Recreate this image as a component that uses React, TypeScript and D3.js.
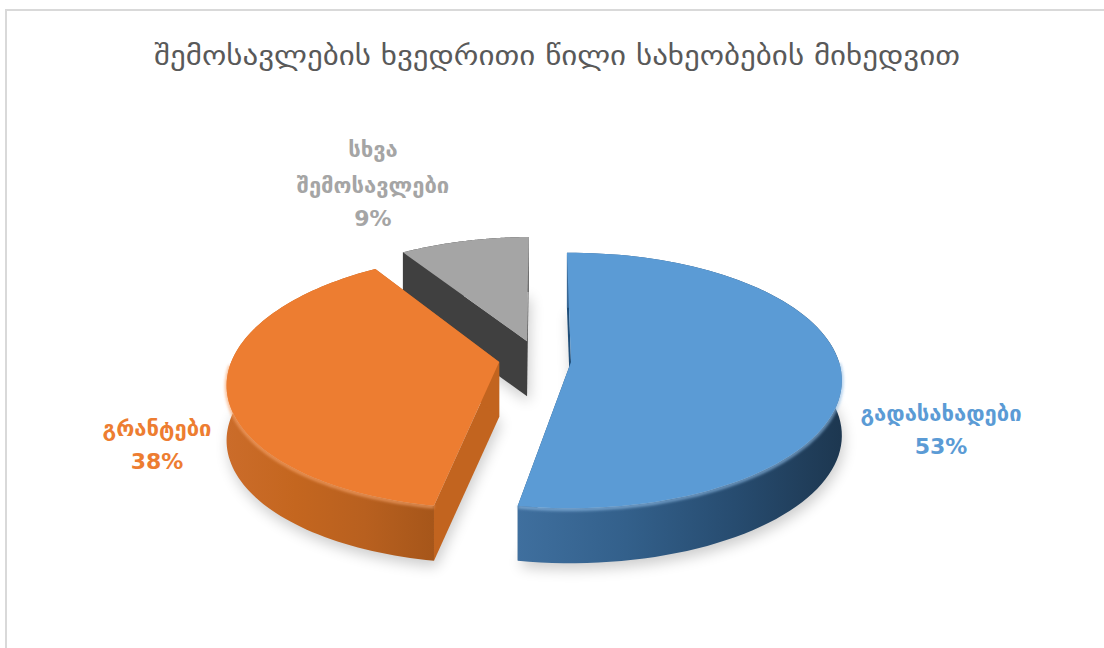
import React from "react";
import * as d3 from "d3";

const title = "შემოსავლების ხვედრითი წილი სახეობების მიხედვით";
const categories = ["გადასახადები", "გრანტები", "სხვა შემოსავლები"];
const values = [53, 38, 9];
const percentLabels = ["53%", "38%", "9%"];
const labelLines = [["გადასახადები", "53%"], ["გრანტები", "38%"], ["სხვა", "შემოსავლები", "9%"]];
const labelX = [941, 157, 373];
const labelY = [[421, 454], [436, 469], [157, 193, 226]];
const topColors = ["#5b9bd5", "#ed7d31", "#a5a5a5"];
const rimColors = ["#8fbce6", "#f7a46c", "#b8b8b8"];
const innerWall = ["#1f4e79", "#c2641f", "#404040"];
const wallStops = [
  ["#3f6f9e", "#33608b", "#274c70", "#1d3750"],
  ["#cb6c2a", "#c4661f", "#b8601f", "#a6561a"],
  ["#404040", "#404040", "#404040", "#404040"],
];
const explodeX = [0, -0.268, -0.168];
const explodeY = [0, 0, 0.17];

const CX = 571, CY = 362, RX = 268, RY = 125, K = 0.145, DEPTH = 55;
const ROTATION = (-1 * Math.PI) / 180;

const project = (px: number, py: number): [number, number] => {
  const w = 1 + K * py;
  return [CX + (RX * px) / w, CY - (RY * py) / w];
};

const pieGen = d3.pie<number>().sort(null).startAngle(ROTATION).endAngle(ROTATION + 2 * Math.PI);
const line = d3.line();
const down = (p: [number, number]): [number, number] => [p[0], p[1] + DEPTH];

const slices = pieGen(values).map((a, i) => {
  const n = 90;
  const xScale = d3.scaleLinear().domain([0, n]).range([a.startAngle, a.endAngle]);
  const rim = d3.range(n + 1).map((t) => {
    const th = xScale(t);
    return project(explodeX[i] + Math.sin(th), explodeY[i] + Math.cos(th));
  });
  const apex = project(explodeX[i], explodeY[i]);
  return { i, apex, rim };
});

export default function App() {
  const drawOrder = [2, 1, 0];
  return (
    <svg width={1104} height={648} viewBox="0 0 1104 648"
      style={{ position: "absolute", left: 0, top: 0, display: "block", background: "#fff" }}>
      <defs>
        <filter id="sh" x="-20%" y="-20%" width="140%" height="140%"><feGaussianBlur stdDeviation="7" /></filter>
        <filter id="rim" x="-10%" y="-10%" width="120%" height="120%"><feGaussianBlur stdDeviation="1.4" /></filter>
        {slices.map((s) => {
          const xs = s.rim.map((p) => p[0]);
          const x0 = d3.min(xs)!, x1 = d3.max(xs)!;
          const flip = s.i === 1;
          return (
            <linearGradient key={s.i} id={`wall${s.i}`} gradientUnits="userSpaceOnUse"
              x1={flip ? x0 : x0} x2={x1} y1={0} y2={0}>
              {wallStops[s.i].map((c, k) => (
                <stop key={k} offset={k / 3} stopColor={c} />
              ))}
            </linearGradient>
          );
        })}
      </defs>

      <rect x={6} y={10} width={1110} height={660} fill="#fff" stroke="#d9d9d9" strokeWidth={2} />

      <text x={557} y={65} textAnchor="middle" fill="#595959" textLength={806} lengthAdjust="spacingAndGlyphs"
        style={{ fontFamily: "'DejaVu Sans'", fontSize: 27 }}>{title}</text>

      {slices.map((s) => {
        const outline = [s.apex, ...s.rim];
        const bottom = outline.map(down).map((p) => [p[0] + 2, p[1] + 6] as [number, number]);
        return <path key={s.i} d={line(bottom)! + "Z"} fill="#000" opacity={0.2} filter="url(#sh)" />;
      })}

      {drawOrder.map((idx) => {
        const s = slices[idx];
        const first = s.rim[0], last = s.rim[s.rim.length - 1];
        const wallA = [s.apex, first, down(first), down(s.apex)];
        const wallB = [s.apex, last, down(last), down(s.apex)];
        const outer = [...s.rim, ...s.rim.slice().reverse().map(down)];
        return (
          <g key={idx}>
            <path d={line(wallA)! + "Z"} fill={innerWall[idx]} />
            <path d={line(wallB)! + "Z"} fill={innerWall[idx]} />
            <path d={line(outer)! + "Z"} fill={`url(#wall${idx})`} />
            <path d={line(s.rim.filter((p) => p[1] > CY))!} fill="none" stroke={rimColors[idx]}
              strokeWidth={3} opacity={0.8} filter="url(#rim)" transform="translate(0,1)" />
            <path d={line([s.apex, ...s.rim])! + "Z"} fill={topColors[idx]} />
          </g>
        );
      })}

      {labelLines.map((lines, i) =>
        lines.map((t, j) => (
          <text key={`${i}-${j}`} x={labelX[i]} y={labelY[i][j]} textAnchor="middle" fill={topColors[i]}
            style={{ fontFamily: "'DejaVu Sans'", fontSize: 22, fontWeight: 700 }}>{t}</text>
        ))
      )}
      <title>{categories.join(", ") + " " + percentLabels.join(", ")}</title>
    </svg>
  );
}
